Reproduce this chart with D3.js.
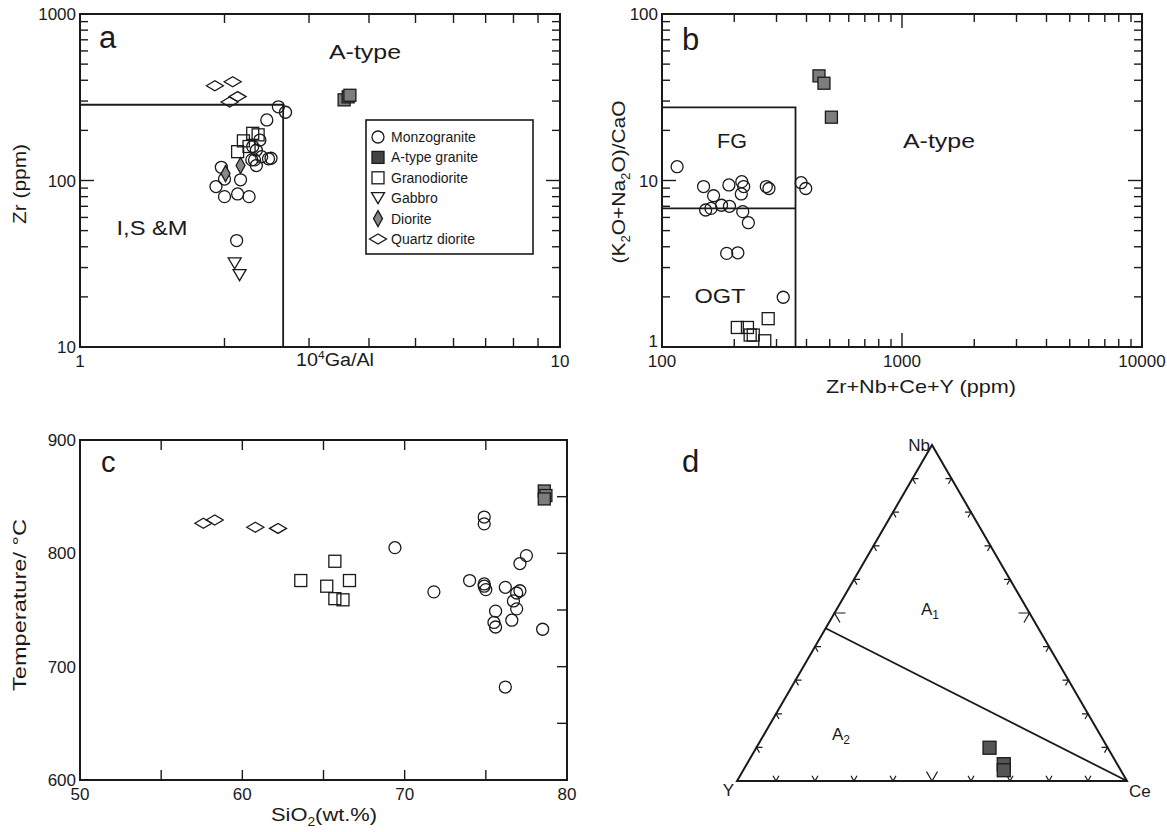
<!DOCTYPE html>
<html>
<head>
<meta charset="utf-8">
<script src="https://cdn.jsdelivr.net/npm/d3@7"></script>
<style>
  body { margin: 0; background: #fff; }
  svg { font-family: "Liberation Sans", Arial, sans-serif; }
</style>
</head>
<body>
<svg id="chart" width="1167" height="832"></svg>
<script>
// ---- panel a : 10^4 Ga/Al vs Zr (ppm)
const aMonzogranite = [[1.92,92],[2.00,80],[2.13,83],[2.25,80],[1.97,120],[2.00,102],[2.16,101],
  [2.33,123],[2.31,133],[2.37,175],[2.39,139],[2.50,136],[2.45,231],[2.59,277],[2.68,257],
  [2.33,152],[2.29,160],[2.12,43.6],[2.47,135],[2.28,133]];
const aAtype = [[3.55,305],[3.62,318],[3.65,325]];
const aGranodiorite = [[2.13,149],[2.19,173],[2.29,192],[2.35,188],[2.25,160]];
const aGabbro = [[2.10,31.8],[2.15,27]];
const aDiorite = [[2.01,110],[2.16,123]];
const aQuartzDiorite = [[1.91,371],[2.08,392],[2.13,319],[2.05,296]];
const aBoundaryX = 2.65, aBoundaryY = 285;

// ---- panel b : Zr+Nb+Ce+Y vs (K2O+Na2O)/CaO
const bMonzogranite = [[115.6,12.1],[149,9.2],[164,8.1],[152,6.65],[160,6.8],[177,7.1],[191,7.0],
  [190,9.4],[215,9.84],[219,9.2],[214,8.3],[217,6.5],[229,5.58],[186,3.65],[207,3.68],
  [272,9.2],[279,8.95],[380,9.7],[397,8.95],[320,1.99]];
const bAtype = [[451,42.5],[473,38.4],[508,24]];
const bGranodiorite = [[206,1.31],[227,1.31],[233,1.18],[240,1.18],[268,1.09],[277,1.48]];
const bFGx = 360, bFGtop = 27.5, bFGmid = 6.8;

// ---- panel c : SiO2 vs temperature
const cMonzogranite = [[69.4,805],[71.8,766],[74.0,776],[74.9,832],[74.9,826],[74.9,773],
  [74.9,771],[75.0,768],[75.6,749],[75.5,739],[75.6,735],[76.2,770],[76.7,758],[76.6,741],
  [76.9,751],[76.9,765],[77.1,767],[77.1,791],[77.5,798],[76.2,682],[78.5,733]];
const cAtype = [[78.6,855],[78.7,851],[78.6,848]];
const cGranodiorite = [[63.6,776],[65.2,771],[65.7,793],[65.7,760],[66.2,759],[66.6,776]];
const cQuartzDiorite = [[57.6,826.5],[58.3,829.4],[60.8,823],[62.2,822]];

// ---- panel d : Nb - Y - Ce ternary (Nb, Y, Ce fractions)
const dAtype = [[0.099,0.303,0.598],[0.050,0.291,0.659],[0.032,0.300,0.668]];
const dBoundaryNb = 0.4545;
const dTicks = [0.1,0.2,0.3,0.4,0.5,0.6,0.7,0.8,0.9];

// tick values
const decadeMinor = [2,3,4,5,6,7,8,9];
const aYMajor = [10,100,1000], aXMajor = [1,10];
const bYMajor = [1,10,100], bXMajor = [100,1000,10000];
const cXTicks = [50,55,60,65,70,75,80], cXLabels = [50,60,70,80];
const cYTicks = [600,650,700,750,800,850,900], cYLabels = [600,700,800,900];

const legendItems = [
  ["monzo","Monzogranite"],["atypeLeg","A-type granite"],["grano","Granodiorite"],
  ["gabbro","Gabbro"],["diorite","Diorite"],["qdiorite","Quartz diorite"]];

const svg = d3.select("#chart");
const INK = "#1a1a1a";

const styles = {
  monzo:    {shape:"circle", r:6, fill:"none"},
  atype:    {shape:"square", s:12, fill:"#7d7d7d"},
  atypeLeg: {shape:"square", s:12, fill:"#444"},
  atypeD:   {shape:"square", s:13, fill:"#555"},
  grano:    {shape:"square", s:12, fill:"none"},
  gabbro:   {shape:"tri", w:13, h:11, fill:"none"},
  diorite:  {shape:"diamond", w:9, h:16, fill:"#888"},
  qdiorite: {shape:"diamond", w:17, h:10, fill:"none"}
};

function marker(g, kind, x, y) {
  const st = styles[kind];
  let el;
  if (st.shape === "circle") {
    el = g.append("circle").attr("cx", x).attr("cy", y).attr("r", st.r);
  } else if (st.shape === "square") {
    el = g.append("rect").attr("x", x - st.s/2).attr("y", y - st.s/2)
      .attr("width", st.s).attr("height", st.s);
  } else if (st.shape === "tri") {
    el = g.append("path").attr("d", `M${x-st.w/2},${y-st.h/2}L${x+st.w/2},${y-st.h/2}L${x},${y+st.h/2}Z`);
  } else {
    el = g.append("path").attr("d", `M${x-st.w/2},${y}L${x},${y-st.h/2}L${x+st.w/2},${y}L${x},${y+st.h/2}Z`);
  }
  el.attr("fill", st.fill).attr("stroke", INK).attr("stroke-width", 1.3);
}

function plotPoints(g, data, kind, xs, ys) {
  data.forEach(d => marker(g, kind, xs(d[0]), ys(d[1])));
}

// frame and inward ticks
function frame(g, xs, ys, opt) {
  const [x0, x1] = xs.range(), [y0, y1] = ys.range(); // y0 bottom, y1 top
  const tk = g.append("g").attr("stroke", INK).attr("stroke-width", 1.4);
  (opt.xTicks || []).forEach(t => {
    const v = t[0], len = t[1], x = xs(v);
    tk.append("line").attr("x1", x).attr("x2", x).attr("y1", y0).attr("y2", y0 - len);
    tk.append("line").attr("x1", x).attr("x2", x).attr("y1", y1).attr("y2", y1 + len);
  });
  (opt.yTicks || []).forEach(t => {
    const v = t[0], len = t[1], y = ys(v);
    if (!opt.noLeftTicks) tk.append("line").attr("x1", x0).attr("x2", x0 + len).attr("y1", y).attr("y2", y);
    tk.append("line").attr("x1", x1).attr("x2", x1 - len).attr("y1", y).attr("y2", y);
  });
  g.append("rect").attr("x", x0).attr("y", y1).attr("width", x1 - x0).attr("height", y0 - y1)
    .attr("fill", "none").attr("stroke", INK).attr("stroke-width", 2);
  (opt.xLabels || []).forEach(v => {
    g.append("text").attr("x", xs(v)).attr("y", y0 + 20).attr("text-anchor", "middle")
      .attr("font-size", 17).attr("fill", INK).text(v);
  });
  (opt.yLabels || []).forEach((v, i) => {
    const raise = opt.raiseFirstY && i === 0;
    g.append("text").attr("x", x0 - 4).attr("y", ys(v)).attr("dy", raise ? "0" : "0.36em")
      .attr("text-anchor", "end").attr("font-size", 17).attr("fill", INK).text(v);
  });
}

function logTicks(majors) {
  const out = [];
  majors.forEach((m, i) => {
    out.push([m, 14]);
    if (i < majors.length - 1) decadeMinor.forEach(k => out.push([m * k, 8]));
  });
  return out;
}

// wide lettering of the original: stretch glyphs to the measured length
function stretch(t, len) {
  return t.attr("textLength", len).attr("lengthAdjust", "spacingAndGlyphs");
}

function label(g, x, y, txt, size, anchor, len) {
  const t = g.append("text").attr("x", x).attr("y", y).attr("font-size", size)
    .attr("text-anchor", anchor || "start").attr("fill", INK).text(txt);
  if (len) stretch(t, len);
  return t;
}

// ================= panel a
{
  const g = svg.append("g");
  const xs = d3.scaleLog().domain([1, 10]).range([80, 560]);
  const ys = d3.scaleLog().domain([10, 1000]).range([347, 14]);
  frame(g, xs, ys, {
    xTicks: decadeMinor.map(v => [v, 9]),
    yTicks: logTicks(aYMajor), xLabels: aXMajor, yLabels: aYMajor
  });
  g.append("path")
    .attr("d", `M${xs(1)},${ys(aBoundaryY)}H${xs(aBoundaryX)}V${ys(10)}`)
    .attr("fill", "none").attr("stroke", INK).attr("stroke-width", 1.8);

  label(g, 99, 48, "a", 31);
  label(g, 365, 59, "A-type", 21, "middle", 72);
  label(g, 152, 235, "I,S &M", 21, "middle", 71);

  const xt = stretch(g.append("text").attr("x", 335).attr("y", 366).attr("text-anchor", "middle")
    .attr("font-size", 18).attr("fill", INK), 78);
  xt.append("tspan").text("10");
  xt.append("tspan").attr("dy", -7).attr("font-size", 11).text("4");
  xt.append("tspan").attr("dy", 7).text("Ga/Al");
  stretch(g.append("text").attr("transform", "translate(26,184) rotate(-90)").attr("text-anchor", "middle")
    .attr("font-size", 19).attr("fill", INK).text("Zr (ppm)"), 80);

  plotPoints(g, aMonzogranite, "monzo", xs, ys);
  plotPoints(g, aGranodiorite, "grano", xs, ys);
  plotPoints(g, aDiorite, "diorite", xs, ys);
  plotPoints(g, aGabbro, "gabbro", xs, ys);
  plotPoints(g, aQuartzDiorite, "qdiorite", xs, ys);
  plotPoints(g, aAtype, "atype", xs, ys);

  // legend
  const lg = g.append("g");
  lg.append("rect").attr("x", 366).attr("y", 120).attr("width", 167).attr("height", 134)
    .attr("fill", "#fff").attr("stroke", INK).attr("stroke-width", 1.6);
  const ly = d3.scalePoint().domain(legendItems.map(d => d[0])).range([137, 239]);
  legendItems.forEach(([k, name]) => {
    marker(lg, k, 378, ly(k));
    label(lg, 391, ly(k) + 5, name, 14);
  });
}

// ================= panel b
{
  const g = svg.append("g");
  const xs = d3.scaleLog().domain([100, 10000]).range([662, 1142]);
  const ys = d3.scaleLog().domain([1, 100]).range([347, 14]);
  frame(g, xs, ys, {
    xTicks: logTicks(bXMajor), yTicks: logTicks(bYMajor), xLabels: bXMajor, yLabels: bYMajor,
    raiseFirstY: true
  });
  g.append("path")
    .attr("d", `M${xs(100)},${ys(bFGtop)}H${xs(bFGx)}V${ys(1)}M${xs(100)},${ys(bFGmid)}H${xs(bFGx)}`)
    .attr("fill", "none").attr("stroke", INK).attr("stroke-width", 1.8);

  label(g, 682, 50, "b", 31);
  label(g, 732, 148, "FG", 21, "middle", 30);
  label(g, 939, 148, "A-type", 21, "middle", 72);
  label(g, 720, 303, "OGT", 21, "middle", 51);

  label(g, 921, 393, "Zr+Nb+Ce+Y (ppm)", 19, "middle", 190);
  const yt = stretch(g.append("text").attr("transform", "translate(625,182) rotate(-90)")
    .attr("text-anchor", "middle").attr("font-size", 19).attr("fill", INK), 163);
  yt.append("tspan").text("(K");
  yt.append("tspan").attr("dy", 5).attr("font-size", 12).text("2");
  yt.append("tspan").attr("dy", -5).text("O+Na");
  yt.append("tspan").attr("dy", 5).attr("font-size", 12).text("2");
  yt.append("tspan").attr("dy", -5).text("O)/CaO");

  plotPoints(g, bMonzogranite, "monzo", xs, ys);
  plotPoints(g, bGranodiorite, "grano", xs, ys);
  plotPoints(g, bAtype, "atype", xs, ys);
}

// ================= panel c
{
  const g = svg.append("g");
  const xs = d3.scaleLinear().domain([50, 80]).range([80, 567]);
  const ys = d3.scaleLinear().domain([600, 900]).range([780, 440]);
  frame(g, xs, ys, {
    xTicks: cXTicks.map(v => [v, 10]), yTicks: cYTicks.map(v => [v, 10]),
    xLabels: cXLabels, yLabels: cYLabels, noLeftTicks: true
  });
  label(g, 101, 472, "c", 29);

  const xt = stretch(g.append("text").attr("x", 324).attr("y", 821).attr("text-anchor", "middle")
    .attr("font-size", 19).attr("fill", INK), 106);
  xt.append("tspan").text("SiO");
  xt.append("tspan").attr("dy", 5).attr("font-size", 12).text("2");
  xt.append("tspan").attr("dy", -5).text("(wt.%)");
  stretch(g.append("text").attr("transform", "translate(26,605) rotate(-90)").attr("text-anchor", "middle")
    .attr("font-size", 19).attr("fill", INK).text("Temperature/ °C"), 172);

  plotPoints(g, cQuartzDiorite, "qdiorite", xs, ys);
  plotPoints(g, cGranodiorite, "grano", xs, ys);
  plotPoints(g, cMonzogranite, "monzo", xs, ys);
  plotPoints(g, cAtype, "atype", xs, ys);
}

// ================= panel d (ternary)
{
  const g = svg.append("g");
  const tx = d3.scaleLinear().domain([0, 1]).range([737, 1127]);   // Ce + Nb/2
  const ty = d3.scaleLinear().domain([0, 1]).range([781, 445]);    // Nb
  const pt = (nb, ce) => [tx(ce + nb / 2), ty(nb)];
  const Yv = pt(0, 0), Cev = pt(0, 1), Nbv = pt(1, 0);

  g.append("path").attr("d", `M${Yv}L${Cev}L${Nbv}Z`).attr("fill", "none")
    .attr("stroke", INK).attr("stroke-width", 2).attr("stroke-linejoin", "miter");

  // chevron ticks along ternary grid directions
  const tk = g.append("g").attr("fill", "none").attr("stroke", INK).attr("stroke-width", 1.2);
  const c60 = 0.5, s60 = Math.sqrt(3) / 2;
  dTicks.forEach(f => {
    const len = f === 0.5 ? 11 : 6;
    let p = pt(0, f);      // bottom edge
    tk.append("path").attr("d", `M${p[0]-c60*len},${p[1]-s60*len}L${p[0]},${p[1]}L${p[0]+c60*len},${p[1]-s60*len}`);
    p = pt(f, 0);          // left edge
    tk.append("path").attr("d", `M${p[0]+len},${p[1]}L${p[0]},${p[1]}L${p[0]+c60*len},${p[1]+s60*len}`);
    p = pt(f, 1 - f);      // right edge
    tk.append("path").attr("d", `M${p[0]-len},${p[1]}L${p[0]},${p[1]}L${p[0]-c60*len},${p[1]+s60*len}`);
  });

  const b0 = pt(dBoundaryNb, 0);
  g.append("line").attr("x1", b0[0]).attr("y1", b0[1]).attr("x2", Cev[0]).attr("y2", Cev[1])
    .attr("stroke", INK).attr("stroke-width", 1.8);

  label(g, 682, 472, "d", 31);
  label(g, Nbv[0] - 2, Nbv[1] + 6, "Nb", 17, "end");
  label(g, Yv[0] - 3, Yv[1] + 15, "Y", 17, "end");
  label(g, Cev[0] + 2, Cev[1] + 16, "Ce", 17, "start");

  const a1 = label(g, 921, 615, "A", 17);
  a1.append("tspan").attr("dy", 4).attr("font-size", 12).text("1");
  const a2 = label(g, 832, 740, "A", 17);
  a2.append("tspan").attr("dy", 4).attr("font-size", 12).text("2");

  dAtype.forEach(d => {
    const p = pt(d[0], d[2]);
    marker(g, "atypeD", p[0], p[1]);
  });
}
</script>
</body>
</html>
